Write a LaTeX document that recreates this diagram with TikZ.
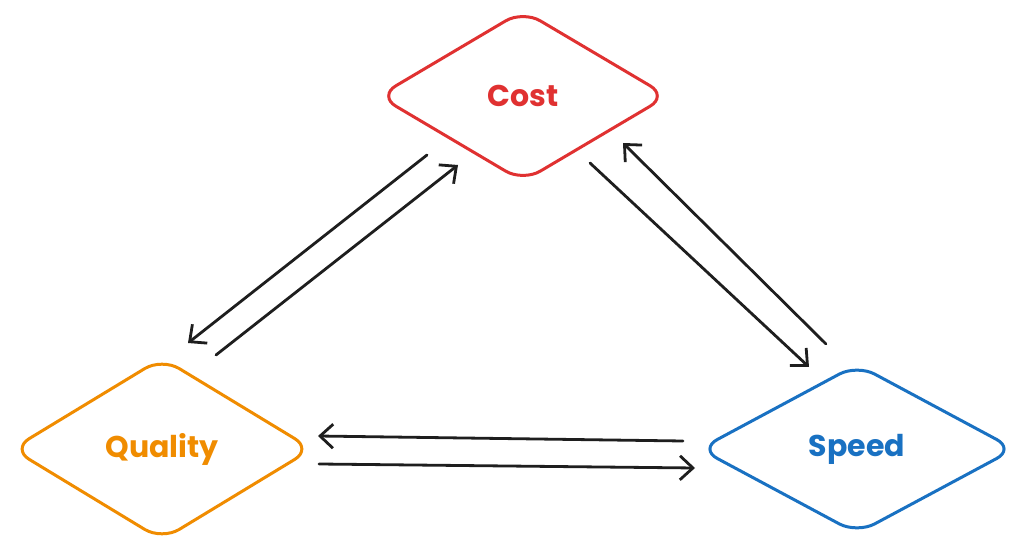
\documentclass[tikz,border=0pt]{standalone}
\usepackage{fontspec}
\setmainfont{Poppins}
\usetikzlibrary{shapes.geometric,arrows.meta}
\definecolor{costred}{HTML}{E03131}
\definecolor{qualorange}{HTML}{F08C00}
\definecolor{speedblue}{HTML}{1971C2}
\definecolor{ink}{HTML}{1E1E1E}
\tikzset{
  dia/.style={diamond, draw, line width=3pt, inner sep=0pt, rounded corners=20pt,
    font=\fontsize{30}{34}\selectfont\bfseries},
  arr/.style={draw=ink, line width=2.8pt, line cap=round,
    -{Straight Barb[length=13pt,width=24pt,line width=2.8pt]}},
}
\begin{document}
\begin{tikzpicture}[x=1pt,y=-1pt]
\path[use as bounding box,fill=white] (0,0) rectangle (1029,553);
\node[dia, draw=costred, text=costred, minimum width=290pt, minimum height=172pt] (c) at (523,96) {Cost};
\node[dia, draw=qualorange, text=qualorange, minimum width=301pt, minimum height=183pt] (q) at (162,449) {Quality};
\node[dia, draw=speedblue, text=speedblue, minimum width=316pt, minimum height=170pt] (s) at (857,449) {Speed};
% Quality <-> Cost
\draw[arr] ([shift={(54,-94)}]q.center) -- ([shift={(-65,69)}]c.center);
\draw[arr] ([shift={(-96,59)}]c.center) -- ([shift={(26,-106)}]q.center);
% Cost <-> Speed
\draw[arr] ([shift={(67,67)}]c.center) -- ([shift={(-48,-82)}]s.center);
\draw[arr] ([shift={(-31,-105)}]s.center) -- ([shift={(100,47)}]c.center);
% Speed <-> Quality
\draw[arr] ([shift={(-174,-8)}]s.center) -- ([shift={(156,-13)}]q.center);
\draw[arr] ([shift={(157,15)}]q.center) -- ([shift={(-162,19)}]s.center);
\end{tikzpicture}
\end{document}
